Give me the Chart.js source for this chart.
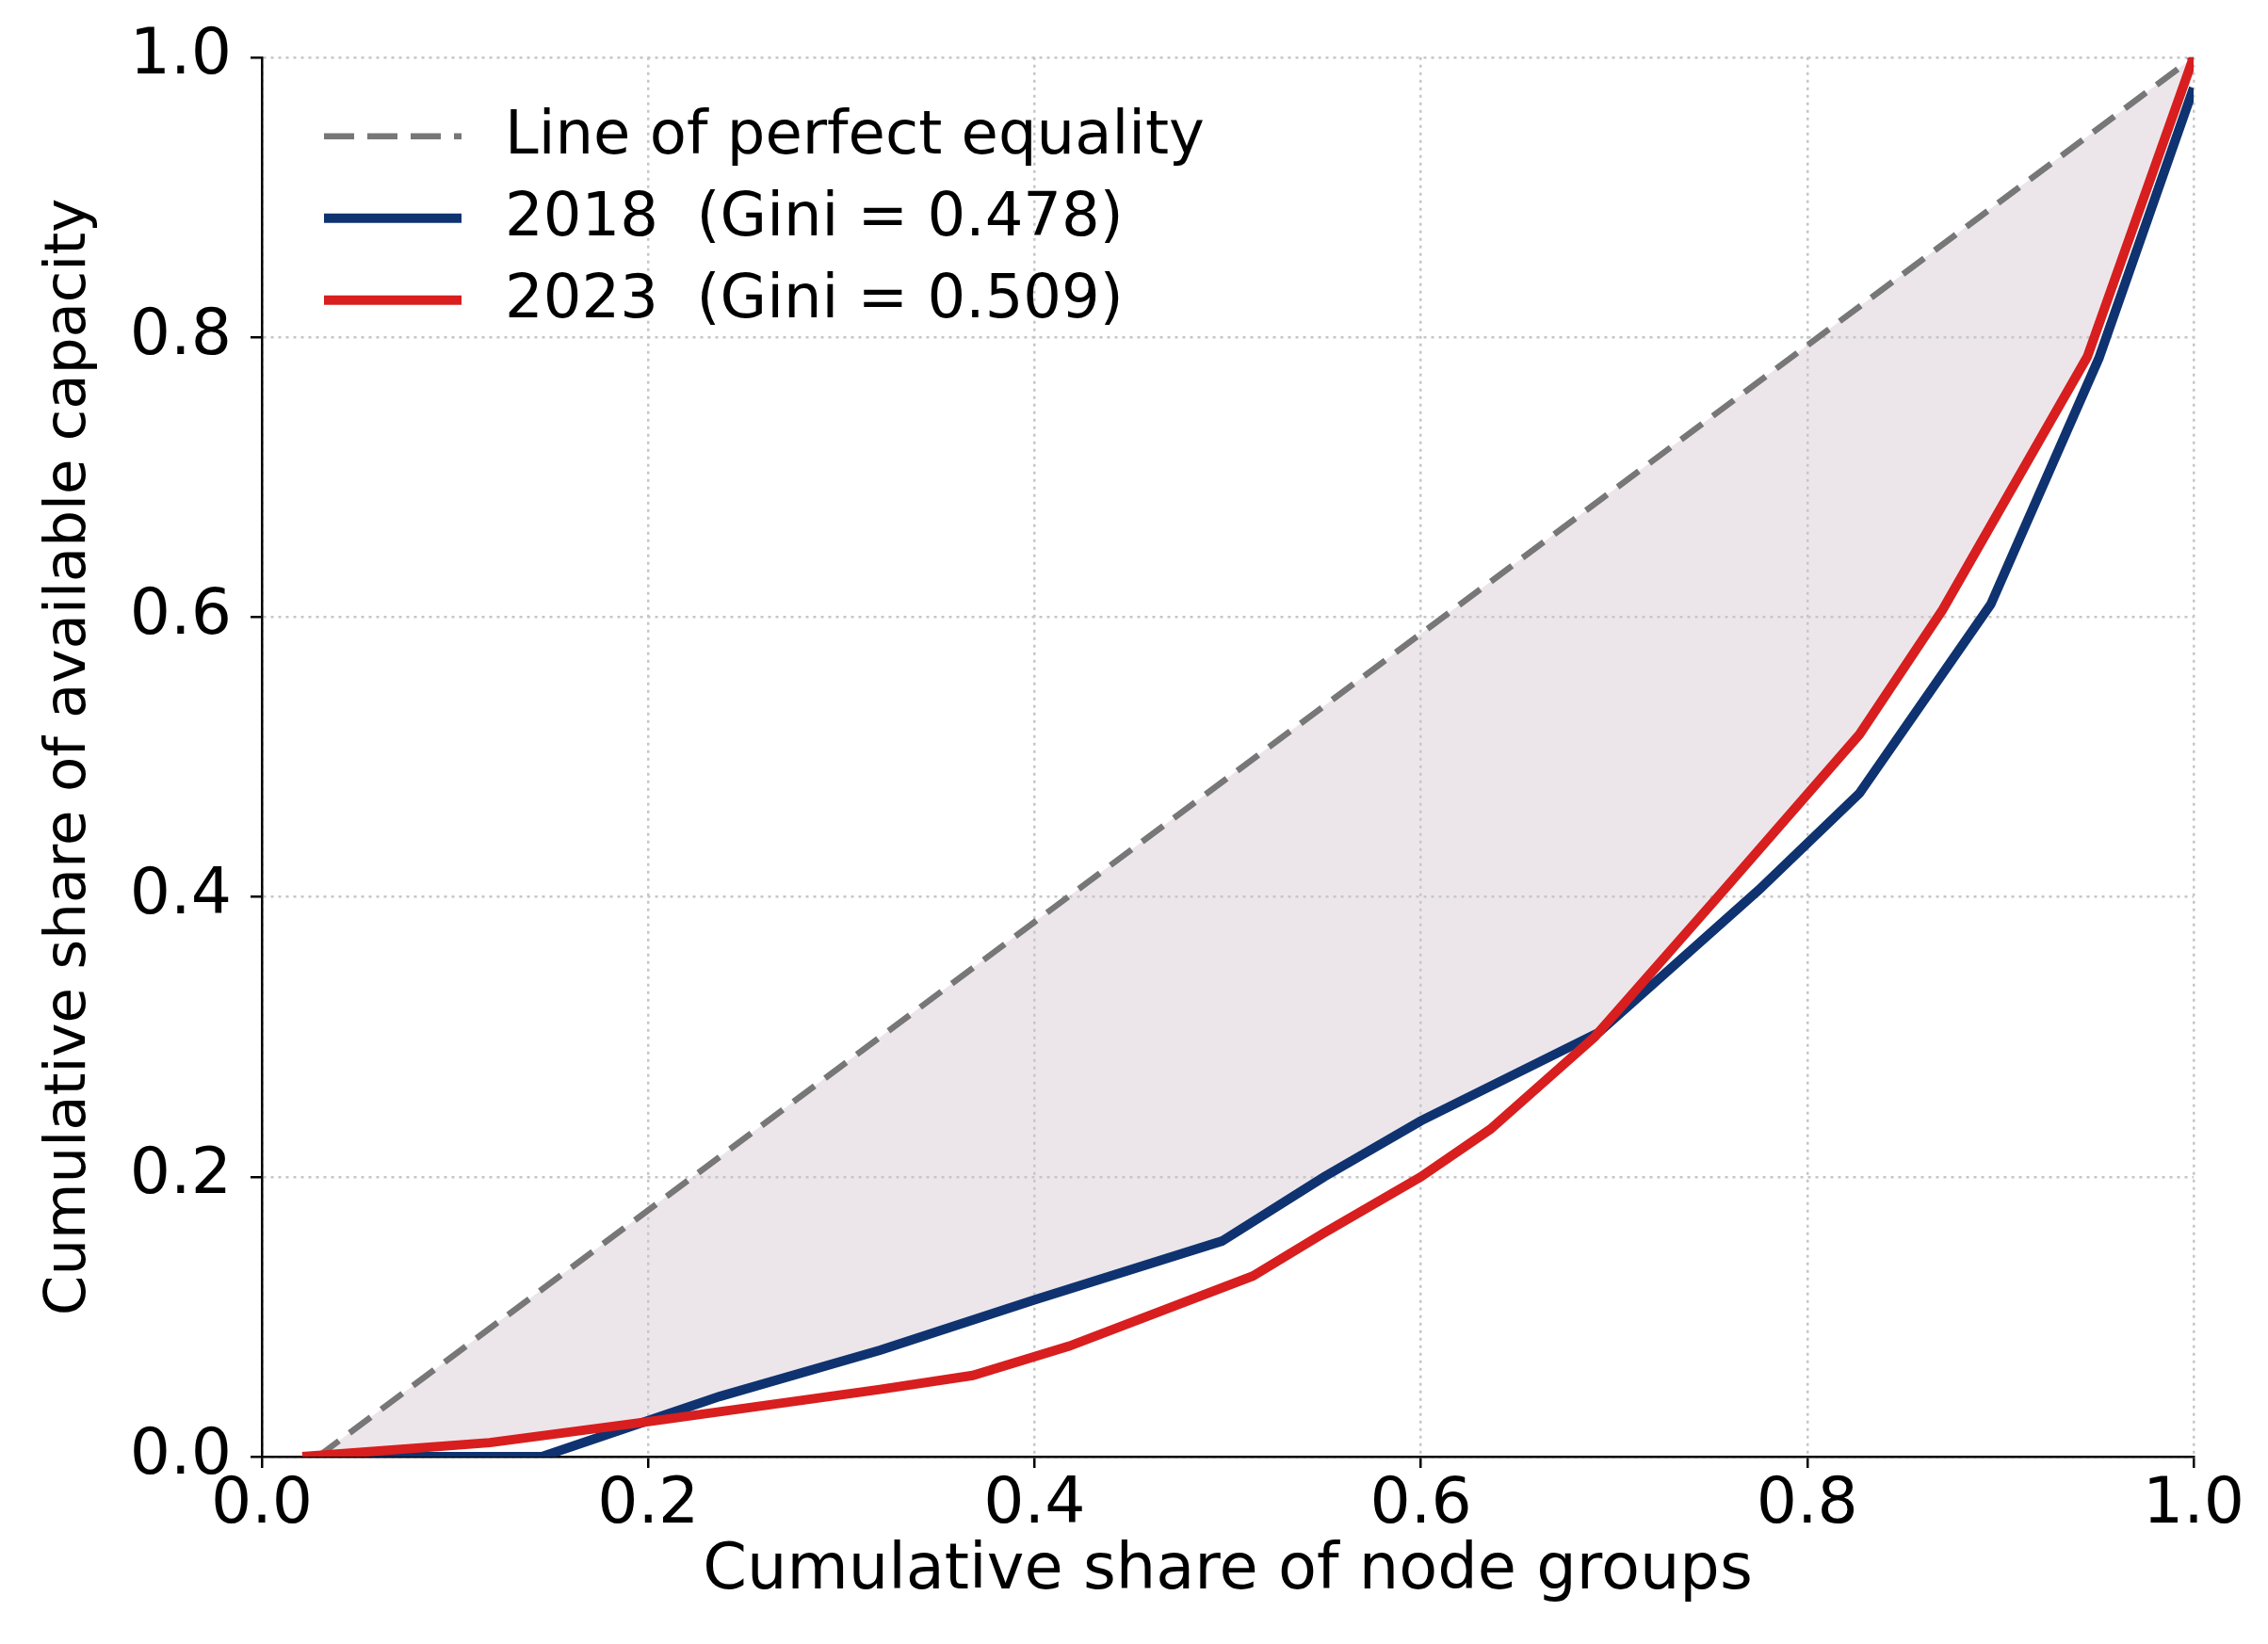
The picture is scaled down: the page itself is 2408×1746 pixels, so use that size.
<!DOCTYPE html>
<html>
<head>
<meta charset="utf-8">
<title>Lorenz curves</title>
<script src="https://cdn.jsdelivr.net/npm/chart.js@4.4.1/dist/chart.umd.min.js"></script>
<style>
  body { margin: 0; background: #ffffff; }
  #lorenzChart { display: block; background: #ffffff; }
</style>
</head>
<body>
<canvas id="lorenzChart" width="2408" height="1746" style="width:2408px;height:1746px"></canvas>
<script>
// Line of perfect equality
var equality_x = [0.029, 1.0]
var equality_y = [0.0, 1.0]

// 2018 curve
var curve2018_x = [0.021, 0.145, 0.237, 0.32, 0.40, 0.497, 0.550, 0.600, 0.692, 0.775, 0.827, 0.895, 0.951, 1.0]
var curve2018_y = [0.0, 0.0, 0.043, 0.076, 0.112, 0.154, 0.200, 0.240, 0.303, 0.405, 0.474, 0.609, 0.785, 0.978]

// 2023 curve
var curve2023_x = [0.021, 0.118, 0.20, 0.32, 0.368, 0.418, 0.513, 0.55, 0.600, 0.636, 0.69, 0.755, 0.827, 0.870, 0.945, 1.0]
var curve2023_y = [0.0, 0.010, 0.025, 0.048, 0.058, 0.079, 0.129, 0.16, 0.200, 0.234, 0.300, 0.402, 0.516, 0.605, 0.786, 1.0]

var series_labels = ['Line of perfect equality', '2018  (Gini = 0.478)', '2023  (Gini = 0.509)']
var axis_ticks = [0.0, 0.2, 0.4, 0.6, 0.8, 1.0]

function toPoints (xs, ys) {
  return xs.map(function (x, i) {
    return { x: x, y: ys[i] }
  })
}

var FONT = '"DejaVu Sans", "Liberation Sans", sans-serif'
var shade = '#ece6ea'

// legend drawn inside the plot area (top left)
var insideLegend = {
  id: 'insideLegend',
  afterDraw: function (chart) {
    var ctx = chart.ctx
    var area = chart.chartArea
    ctx.save()
    ctx.font = '64px ' + FONT
    ctx.textBaseline = 'middle'
    ctx.textAlign = 'left'
    chart.data.datasets.forEach(function (ds, row) {
      var y = area.top + 84 + row * 87
      ctx.strokeStyle = ds.borderColor
      ctx.lineWidth = ds.borderWidth
      ctx.setLineDash(ds.legendDash || [])
      ctx.beginPath()
      ctx.moveTo(area.left + 66, y)
      ctx.lineTo(area.left + 212, y)
      ctx.stroke()
      ctx.setLineDash([])
      ctx.fillStyle = '#000000'
      ctx.fillText(ds.label, area.left + 258, y + 2)
    })
    ctx.restore()
  }
}

function axisOptions (titleText, isX) {
  return {
    type: 'linear',
    min: 0,
    max: 1,
    afterBuildTicks: function (scale) {
      scale.ticks = axis_ticks.map(function (v) { return { value: v } })
    },
    afterFit: function (scale) {
      if (isX) {
        scale.height = 199
      } else {
        scale.width = 278
      }
    },
    ticks: {
      color: '#000000',
      font: { family: FONT, size: 68 },
      padding: isX ? 0 : 20,
      callback: function (v) { return Number(v).toFixed(1) }
    },
    grid: {
      color: '#c6c6c6',
      lineWidth: 2.5,
      tickLength: 12,
      tickColor: '#000000',
      tickWidth: 2.5,
      tickBorderDash: []
    },
    border: {
      display: true,
      color: '#000000',
      width: 2.5,
      dash: [3, 5]
    },
    title: {
      display: true,
      text: titleText,
      color: '#000000',
      font: { family: FONT, size: isX ? 67 : 61 },
      padding: isX ? { top: 0, bottom: 36 } : { top: 38, bottom: 0 }
    }
  }
}

var ctx = document.getElementById('lorenzChart').getContext('2d')
var lorenzChart = new Chart(ctx, {
  type: 'line',
  data: {
    datasets: [
      {
        label: series_labels[0],
        data: toPoints(equality_x, equality_y),
        borderColor: '#777777',
        borderWidth: 6.5,
        borderDash: [28, 14],
        legendDash: [32, 14],
        pointRadius: 0,
        tension: 0,
        // shaded area down to the 2018 curve
        fill: { target: 1, above: shade, below: shade },
        order: 2
      },
      {
        label: series_labels[1],
        data: toPoints(curve2018_x, curve2018_y),
        borderColor: '#0f3370',
        borderWidth: 10,
        pointRadius: 0,
        tension: 0,
        fill: false,
        order: 1
      },
      {
        label: series_labels[2],
        data: toPoints(curve2023_x, curve2023_y),
        borderColor: '#d81e1e',
        borderWidth: 10,
        pointRadius: 0,
        tension: 0,
        // clear the gap where 2023 sits above 2018
        fill: { target: 1, above: '#ffffff', below: 'rgba(0,0,0,0)' },
        order: 0
      }
    ]
  },
  options: {
    responsive: false,
    devicePixelRatio: 1,
    animation: false,
    layout: {
      padding: { left: 0, top: 52, right: 79, bottom: 0 }
    },
    scales: {
      x: axisOptions('Cumulative share of node groups', true),
      y: axisOptions('Cumulative share of available capacity', false)
    },
    plugins: {
      legend: { display: false },
      tooltip: { enabled: false },
      filler: { drawTime: 'beforeDraw' }
    }
  },
  plugins: [insideLegend]
})
</script>
</body>
</html>
